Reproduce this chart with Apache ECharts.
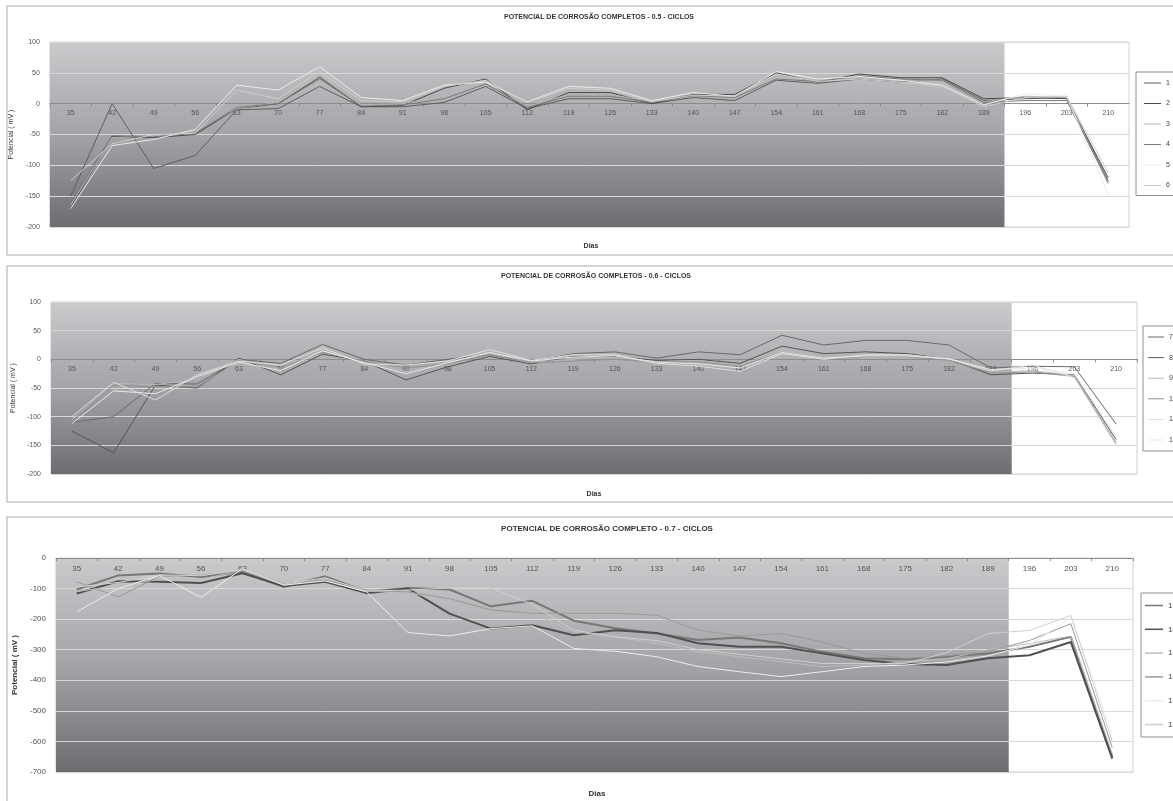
<!DOCTYPE html>
<html>
<head>
<meta charset="utf-8">
<title>Potencial de corrosão</title>
<script src="https://cdn.jsdelivr.net/npm/echarts@6/dist/echarts.min.js"></script>
<style>
  html, body { margin: 0; padding: 0; background: #fff; }
  #chart { width: 1173px; height: 801px; }
</style>
</head>
<body>
<div id="chart"></div>
<script>
// Dias de ensaio (eixo das categorias)
const dias = ['35','42','49','56','63','70','77','84','91','98','105','112','119',
              '126','133','140','147','154','161','168','175','182','189','196','203','210'];

// Fim do período sombreado (entre os dias 189 e 196)
const fimSombreado = 192.5;

// Painel 0.5 - ciclos (corpos de prova 1 a 6), mV
const cp1 = [-150, 0, -105, -84, -10, -8, 28, -5, -5, 2, 28, -8, 8, 8, 0, 10, 5, 38, 33, 40, 35, 40, 5, 8, 10, -125];
const cp2 = [-168, -53, -55, -50, -8, 0, 43, -5, -3, 25, 40, -10, 18, 18, 0, 15, 15, 50, 35, 48, 42, 42, 8, 10, 8, -120];
const cp3 = [-165, -55, -52, -45, -8, 2, 45, -2, 0, 12, 30, -5, 15, 15, 3, 12, 12, 45, 38, 42, 38, 38, 3, 12, 10, -130];
const cp4 = [-160, -52, -54, -48, -6, 0, 40, -4, -2, 8, 32, -6, 12, 12, 2, 13, 10, 40, 36, 45, 40, 38, 2, 5, 5, -128];
const cp5 = [-170, -68, -58, -42, 30, 22, 60, 10, 5, 30, 35, 3, 28, 25, 5, 18, 12, 52, 40, 44, 38, 30, -2, 16, 12, -148];
const cp6 = [-125, -65, -50, -48, 22, 8, 52, 5, 3, 28, 38, 2, 25, 22, 3, 14, 12, 48, 36, 40, 35, 28, -5, 10, 12, -112];

// Painel 0.6 - ciclos (corpos de prova 7 a 12), mV
const cp7  = [-110, -100, -42, -43, 0, -7, 26, 0, -10, 0, 8, -4, 10, 13, 2, 13, 8, 42, 25, 33, 33, 25, -15, -12, -13, -113];
const cp8  = [-125, -163, -45, -50, 2, -27, 9, -3, -36, -13, 5, -8, 5, 5, -2, 0, -7, 23, 10, 13, 10, 0, -27, -24, -27, -140];
const cp9  = [-105, -42, -44, -35, 0, -18, 17, -5, -21, -5, 10, -5, 0, 3, -4, -2, -10, 15, 5, 8, 7, 2, -22, -20, -28, -145];
const cp10 = [-108, -45, -48, -48, -2, -15, 12, -3, -15, -8, 8, -6, -3, 0, -5, -4, -12, 12, 0, 5, 5, -2, -24, -22, -30, -148];
const cp11 = [-100, -40, -71, -27, -3, -10, 20, -8, -10, -3, 17, -2, 8, 8, -7, -12, -21, 10, 0, 8, 8, 0, -20, -10, -32, -150];
const cp12 = [-112, -55, -60, -30, -5, -20, 15, -6, -25, -6, 12, -3, 4, 6, -5, -8, -15, 12, 2, 6, 6, 1, -18, -15, -25, -135];

// Painel 0.7 - ciclos (corpos de prova 13 a 18), mV
const cp13 = [-103, -57, -51, -62, -45, -95, -60, -110, -98, -103, -158, -140, -205, -230, -247, -268, -260, -279, -307, -328, -331, -323, -312, -290, -258, -650];
const cp14 = [-116, -76, -78, -82, -50, -92, -78, -115, -100, -182, -231, -220, -253, -236, -245, -279, -290, -290, -312, -334, -347, -350, -328, -318, -275, -656];
const cp15 = [-110, -90, -70, -70, -40, -88, -70, -108, -110, -149, -187, -181, -241, -258, -279, -307, -323, -339, -355, -350, -340, -330, -300, -280, -255, -640];
const cp16 = [-78, -127, -60, -56, -42, -84, -72, -105, -111, -133, -170, -181, -181, -181, -187, -236, -255, -247, -275, -312, -328, -320, -305, -270, -215, -620];
const cp17 = [-176, -100, -57, -129, -35, -89, -75, -111, -244, -255, -231, -222, -296, -305, -323, -355, -372, -388, -372, -355, -350, -340, -320, -285, -195, -574];
const cp18 = [-95, -80, -55, -58, -38, -86, -65, -108, -105, -98, -98, -152, -236, -258, -270, -300, -315, -330, -345, -345, -345, -310, -247, -237, -188, -600];

const fonte = '"Liberation Sans", Arial, sans-serif';

// Configuração de cada painel
const paineis = [
  {
    titulo: 'POTENCIAL DE CORROSÃO COMPLETOS - 0.5 - CICLOS',
    nomes: ['1', '2', '3', '4', '5', '6'],
    valores: [cp1, cp2, cp3, cp4, cp5, cp6],
    cores: ['#5e5e5e', '#4a4a4a', '#b4b4b4', '#7a7a7a', '#ececec', '#cdcdcd'],
    larguras: [1, 1, 1, 1, 1, 1],
    min: -200, max: 100, intervalo: 50,
    grid: { left: 49, top: 42, width: 1080, height: 185 },
    caixa: { x: 7, y: 6, h: 249 },
    tituloPos: [599, 17], diasPos: [591, 246],
    fonteEixo: 7, negrito: false, nomeGap: 32,
    legenda: { left: 1136, top: 72, padding: [6, 8, 5, 8], gap: 10.5, lh: 10, w: 17, h: 1, fs: 7 }
  },
  {
    titulo: 'POTENCIAL DE CORROSÃO COMPLETOS - 0.6 - CICLOS',
    nomes: ['7', '8', '9', '10', '11', '12'],
    valores: [cp7, cp8, cp9, cp10, cp11, cp12],
    cores: ['#6a6a6a', '#555555', '#b8b8b8', '#939393', '#dedede', '#e8e8e8'],
    larguras: [1, 1, 1, 1, 1, 1],
    min: -200, max: 100, intervalo: 50,
    grid: { left: 51, top: 302, width: 1086, height: 172 },
    caixa: { x: 7, y: 266, h: 236 },
    tituloPos: [596, 276], diasPos: [594, 494],
    fonteEixo: 7, negrito: false, nomeGap: 34,
    legenda: { left: 1143, top: 326, padding: [6, 8, 6, 5], gap: 10.6, lh: 10, w: 16, h: 1, fs: 7 }
  },
  {
    titulo: 'POTENCIAL DE CORROSÃO COMPLETO - 0.7 - CICLOS',
    nomes: ['13', '14', '15', '16', '17', '18'],
    valores: [cp13, cp14, cp15, cp16, cp17, cp18],
    cores: ['#777777', '#505050', '#bdbdbd', '#9a9a9a', '#ededed', '#cfcfcf'],
    larguras: [2, 2, 1, 1, 1, 1],
    min: -700, max: 0, intervalo: 100,
    grid: { left: 56, top: 558, width: 1077, height: 214 },
    caixa: { x: 7, y: 517, h: 300 },
    tituloPos: [607, 529], diasPos: [597, 794],
    fonteEixo: 8, negrito: true, nomeGap: 37,
    legenda: { left: 1141, top: 593, padding: [7, 8, 7, 4], gap: 12.8, lh: 11, w: 18, h: 1.5, fs: 8 }
  }
];

const gradienteFundo = {
  type: 'linear', x: 0, y: 0, x2: 0, y2: 1,
  colorStops: [
    { offset: 0, color: '#c9cacc' },
    { offset: 0.5, color: '#a3a4a7' },
    { offset: 1, color: '#6c6d71' }
  ]
};

const option = {
  animation: false,
  backgroundColor: '#ffffff',
  textStyle: { fontFamily: fonte },
  grid: [], xAxis: [], yAxis: [], series: [], legend: [], graphic: []
};

paineis.forEach(function (p, i) {
  option.grid.push(Object.assign({
    show: true, borderColor: '#d2d2d2', borderWidth: 1, containLabel: false
  }, p.grid));

  // eixo dos dias cruzando o eixo vertical em 0 mV:
  // deslocamento a partir da base do gráfico, na escala do próprio eixo
  const deslocZero = -p.grid.height * (0 - p.min) / (p.max - p.min);
  option.xAxis.push({
    type: 'category', gridIndex: i, data: dias, boundaryGap: true, z: 3,
    position: 'bottom', offset: deslocZero,
    axisLine: { onZero: false, lineStyle: { color: '#8c8c8c', width: 1 } },
    axisTick: { show: true, length: 3, lineStyle: { color: '#8c8c8c' } },
    axisLabel: { fontSize: p.fonteEixo, color: '#555', margin: p.fonteEixo - 1, fontFamily: fonte },
    splitLine: { show: false }
  });

  option.yAxis.push({
    type: 'value', gridIndex: i, min: p.min, max: p.max, interval: p.intervalo, z: 3,
    axisLine: { show: false, onZero: false }, axisTick: { show: false },
    axisLabel: { fontSize: p.fonteEixo, color: '#555', margin: 10, fontFamily: fonte },
    splitLine: { lineStyle: { color: '#d8d8d8', width: 1 } },
    name: 'Potencial ( mV )', nameLocation: 'middle', nameGap: p.nomeGap,
    nameTextStyle: { fontSize: p.fonteEixo, color: '#333', fontFamily: fonte,
                     fontWeight: p.negrito ? 'bold' : 'normal' }
  });

  p.nomes.forEach(function (nome, k) {
    option.series.push({
      type: 'line', name: nome, xAxisIndex: i, yAxisIndex: i, z: 4,
      data: p.valores[k], symbol: 'none', smooth: false,
      lineStyle: { color: p.cores[k], width: p.larguras[k] },
      itemStyle: { color: p.cores[k] }
    });
  });

  option.legend.push({
    orient: 'vertical', left: p.legenda.left, top: p.legenda.top,
    data: p.nomes, icon: 'rect', itemWidth: p.legenda.w, itemHeight: p.legenda.h,
    itemGap: p.legenda.gap,
    padding: p.legenda.padding, borderColor: '#8f8f8f', borderWidth: 1,
    selectedMode: false,
    textStyle: { fontSize: p.legenda.fs, color: '#444', lineHeight: p.legenda.lh, fontFamily: fonte }
  });

  option.graphic.push({
    type: 'rect', silent: true, z: -10,
    shape: { x: p.caixa.x, y: p.caixa.y, width: 1200, height: p.caixa.h },
    style: { fill: 'none', stroke: '#c6c6c6', lineWidth: 1.5 }
  });
  option.graphic.push({
    type: 'text', silent: true, x: p.tituloPos[0], y: p.tituloPos[1],
    style: { text: p.titulo, font: 'bold ' + (p.fonteEixo) + 'px ' + fonte, fill: '#333',
             textAlign: 'center', textVerticalAlign: 'middle', align: 'center', verticalAlign: 'middle' }
  });
  option.graphic.push({
    type: 'text', silent: true, x: p.diasPos[0], y: p.diasPos[1],
    style: { text: 'Dias', font: 'bold ' + (p.fonteEixo) + 'px ' + fonte, fill: '#333',
             textAlign: 'center', textVerticalAlign: 'middle', align: 'center', verticalAlign: 'middle' }
  });
});

// eixos auxiliares em dias (bordas das bandas) para o fundo sombreado
paineis.forEach(function (p, i) {
  option.xAxis.push({ type: 'value', gridIndex: i, min: 31.5, max: 213.5, show: false,
                      axisLine: { onZero: false } });
  option.series.push({
    type: 'line', name: 'fundo' + i, xAxisIndex: paineis.length + i, yAxisIndex: i,
    data: [], silent: true, z: 1,
    markArea: {
      silent: true, z: 1,
      itemStyle: { color: gradienteFundo, borderWidth: 0 },
      data: [[{ xAxis: 31.5 }, { xAxis: fimSombreado }]]
    }
  });
});

const chart = echarts.init(document.getElementById('chart'));
chart.setOption(option);
</script>
</body>
</html>
